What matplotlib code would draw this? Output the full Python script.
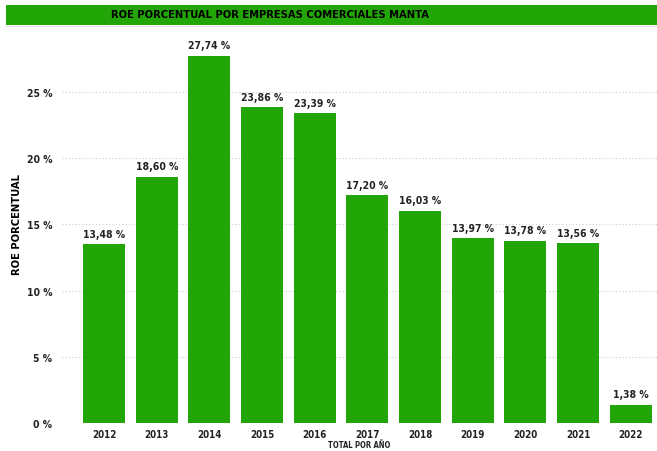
import matplotlib.pyplot as plt
from matplotlib.patches import Rectangle

years = ['2012', '2013', '2014', '2015', '2016', '2017', '2018', '2019', '2020', '2021', '2022']
roe = [13.48, 18.60, 27.74, 23.86, 23.39, 17.20, 16.03, 13.97, 13.78, 13.56, 1.38]
yticks = [0, 5, 10, 15, 20, 25]

green = '#22a506'
plt.rcParams['font.family'] = ['DejaVu Sans']
plt.rcParams['font.stretch'] = 'condensed'

fig = plt.figure(figsize=(6.57, 4.52), dpi=100)
ax = fig.add_axes([62 / 657, 1 - 424 / 452, 595 / 657, 388 / 452])

x = list(range(len(years)))
ax.bar(x, roe, width=0.8, color=green, zorder=2)
for xi, v in zip(x, roe):
    ax.text(xi, v + 0.4, f'{v:.2f} %'.replace('.', ','), ha='center', va='bottom',
            fontsize=7.5, fontweight='bold', color='#222222')

ax.set_xlim(-0.8, 10.5)
ax.set_ylim(0, 29.3)
ax.set_xticks(x)
ax.set_xticklabels(years, fontsize=7, fontweight='bold', color='#222222')
ax.set_yticks(yticks)
ax.set_yticklabels([f'{t} %' for t in yticks], fontsize=7.5, fontweight='bold', color='#222222')
ax.tick_params(axis='x', length=0, pad=4)
ax.tick_params(axis='y', length=0, pad=7)
ax.grid(axis='y', color='#cccccc', linestyle=(0, (1, 2)), linewidth=0.8, zorder=0)
for s in ax.spines.values():
    s.set_visible(False)

ax.set_xlabel('TOTAL POR AÑO', fontsize=5.5, fontweight='bold', color='#222222', labelpad=1)
fig.text(17 / 657, 1 - 225 / 452, 'ROE PORCENTUAL', rotation=90, ha='center', va='center',
         fontsize=8, fontweight='bold', color='black')

# title banner
fig.patches.append(Rectangle((6 / 657, 1 - 26 / 452), 651 / 657, 20 / 452,
                             transform=fig.transFigure, facecolor=green, edgecolor='none'))
fig.patches.append(Rectangle((6 / 657, 1 - 27.5 / 452), 651 / 657, 1 / 452,
                             transform=fig.transFigure, facecolor='#dddddd', edgecolor='none'))
fig.text(270 / 657, 1 - 15 / 452, 'ROE PORCENTUAL POR EMPRESAS COMERCIALES MANTA', ha='center', va='center',
         fontsize=8, fontweight='bold', color='black')

fig.savefig('out.png', dpi=100)
